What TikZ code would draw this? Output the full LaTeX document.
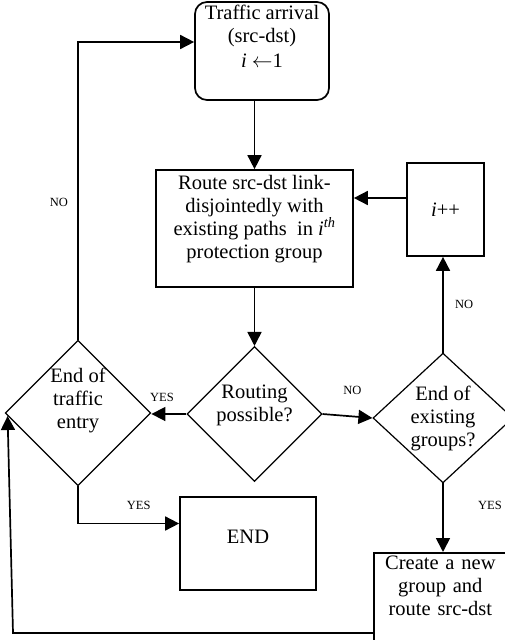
\documentclass[tikz,border=0pt]{standalone}
\usepackage{fontspec}
\setmainfont{Liberation Serif}
\usetikzlibrary{shapes.geometric,arrows.meta}

\begin{document}
\begin{tikzpicture}[x=1pt,y=-1pt,line width=1.7pt,
                    >={Triangle[length=14pt,width=14pt]},
                    every node/.style={font=\fontsize{20.5}{23}\selectfont},
                    box/.style={draw,rectangle,align=center,inner sep=2pt},
                    decision/.style={draw,diamond,align=center,inner sep=0pt,line width=1.2pt},
                    tag/.style={font=\fontsize{12.5}{14}\selectfont}]
                    \useasboundingbox (0,0) rectangle (505,640);
                    % boxes and decisions
                    \node[box,rounded corners=12pt,minimum width=134pt,minimum height=98pt,text depth=30pt] (arrival) at (262,51) {Traffic arrival\\(src-dst)\\[2pt]\textit{i} \raisebox{0pt}[10pt][0pt]{$\leftarrow$}1};
                    \node[box,minimum width=197pt,minimum height=117pt,text depth=24pt] (route) at (254.5,228.5) {Route src-dst link-\\disjointedly with\\existing paths\ \ in \textit{i}\textsuperscript{\textit{th}}\\protection group};
                    \node[box,minimum width=77pt,minimum height=93pt] (inc) at (445.5,209.5) {\textit{i}++};
                    \node[decision,minimum width=137pt,minimum height=132pt,text depth=30pt] (endtraffic) at (78,413) {End of\\traffic\\entry};
                    \node[decision,minimum width=115pt,minimum height=123pt,text depth=22pt] (possible) at (254.5,414) {Routing\\possible?};
                    \node[decision,minimum width=140pt,minimum height=124pt] (endgroups) at (443,418) {End of\\existing\\groups?};
                    \node[box,minimum width=136pt,minimum height=93pt,text depth=14pt] (end) at (248,543.5) {END};
                    \node[box,anchor=north west,text width=125pt,inner xsep=4pt,inner ysep=3pt] (create) at (373,552) {Create a new\\group and\\route src-dst\rule[-40pt]{0pt}{40pt}};
                    \coordinate (incin) at ([yshift=11.5pt]inc.west);
                    \coordinate (back) at (13,633);
                    % connectors
                    \draw[->] (route.north |- arrival.south)--(route.north);
                    \draw[->] (route.south)--(possible.north);
                    \draw[->] (possible.east)--(endgroups.west) node[tag,pos=0.6,above=18pt]{NO};
                    \draw[->] (endgroups.north)--(endgroups.north |- inc.south) node[tag,midway,right=8pt]{NO};
                    \draw[->] (incin)--(route.east |- incin);
                    \draw[->] (endgroups.south)--(endgroups.south |- create.north);
                    \node[tag] (yesright) at (490,505) {YES};
                    \draw[->] (possible.west)--(possible.west -| endtraffic.east) node[tag,pos=0.7,above=8pt]{YES};
                    \draw[->] (endtraffic.south) |- ([yshift=20pt]end.west) node[tag,pos=0.8,above=10pt]{YES};
                    \draw[->] (endtraffic.north) |- ([yshift=9pt]arrival.west) node[tag,pos=0.23,left=6pt]{NO};
                    \draw[->] (create.west |- back)--(back)--([xshift=3pt,yshift=-3pt]endtraffic.west);
                \end{tikzpicture}
\end{document}
